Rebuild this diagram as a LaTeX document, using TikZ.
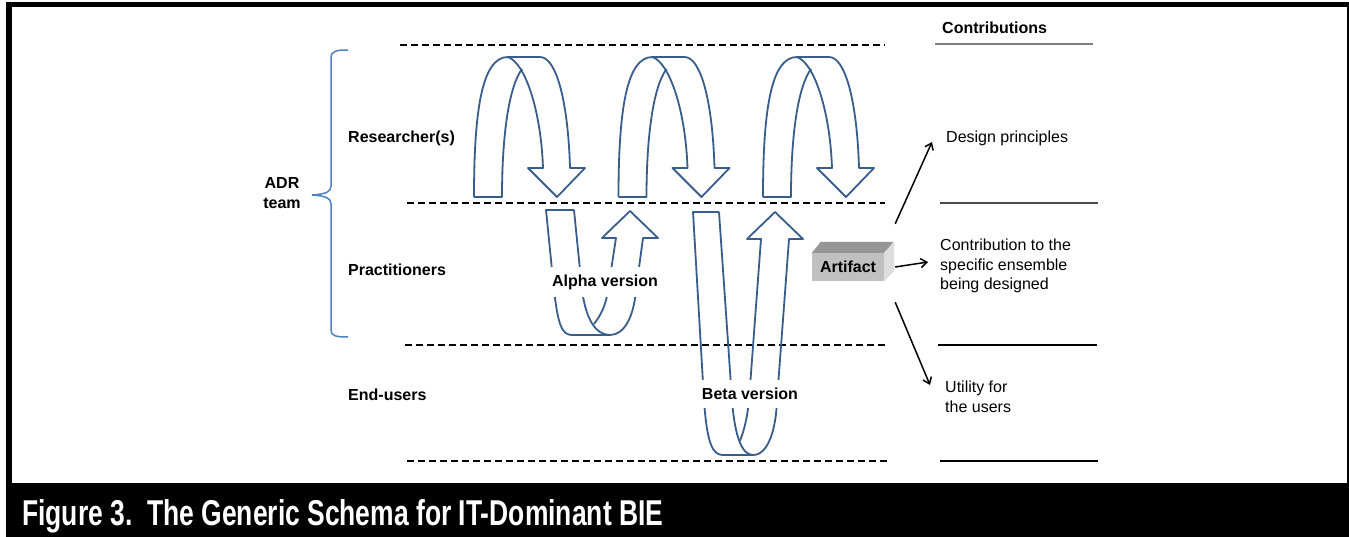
\documentclass[tikz,border=0pt]{standalone}
\usepackage{fontspec}
\setmainfont{Liberation Sans}
\usepackage{graphicx}
\usetikzlibrary{arrows.meta,calc}
\definecolor{arrowblue}{RGB}{56,93,138}
\definecolor{braceblue}{RGB}{79,129,189}
\definecolor{frontgray}{RGB}{192,192,192}
\definecolor{topgray}{RGB}{150,150,150}
\definecolor{sidegray}{RGB}{221,221,221}
\begin{document}
\begin{tikzpicture}[x=1pt,y=-1pt,
  band/.style={font=\bfseries\fontsize{16}{20}\selectfont,anchor=west,inner sep=0pt},
  contrib/.style={font=\fontsize{16}{19.5}\selectfont,anchor=west,align=left,inner sep=0pt},
  version/.style={font=\bfseries\fontsize{16}{20}\selectfont,fill=white,inner xsep=1pt,inner ysep=8pt},
  level/.style={black,line width=1.6pt,dash pattern=on 7pt off 4pt},
  rule/.style={line width=1.2pt},
  uarrow/.style={draw=arrowblue,line width=1.8pt,line join=round},
  pointer/.style={line width=1.5pt,-{Straight Barb[length=6pt,width=9pt]}}]
\useasboundingbox (0,0) rectangle (1349,537);
\fill[black] (6,2) rectangle (1349,537);
\fill[white] (12,7) rectangle (1347,483);
\node[anchor=base west,inner sep=0pt,text=white] (caption) at (22,525) {\resizebox{641pt}{26pt}{\bfseries Figure 3.\ \ The Generic Schema for IT-Dominant BIE}};
\foreach \y/\xa/\xb in {45/400/885,203/407/885,345/405/885,461/407/888} \draw[level] (\xa,\y) -- (\xb,\y);
\draw[rule,gray] (935,44) -- (1093,44);
\draw[rule,black!70] (940,203) -- (1098,203);
\draw[rule] (938,345) -- (1097,345);
\draw[rule] (940,461) -- (1098,461);
\draw[braceblue,line width=1.5pt] (348,50) .. controls (336,50) and (331,51) .. (331,58) -- (331,186) .. controls (331,192) and (326,194) .. (312,195) .. controls (326,196) and (331,198) .. (331,204) -- (331,330) .. controls (331,336) and (336,337) .. (348,337);
\foreach \dx in {0,144.5,289}{
\begin{scope}[xshift=\dx]
\draw[uarrow] (474,197) .. controls (474,110) and (482,57) .. (508,57) -- (540,57) .. controls (556,57) and (568,100) .. (570,168) -- (585,168) -- (557,197) -- (528,168) -- (543,168) .. controls (541,110) and (525,63) .. (508,57);
\draw[uarrow] (474,197) -- (502,197) .. controls (502,130) and (510,85) .. (522,69);
\end{scope}
}
\draw[uarrow] (574,210) -- (546,210) -- (554,290) .. controls (558,325) and (562,335) .. (572,335) -- (610,335) .. controls (625,335) and (634,315) .. (636,290) -- (643,238) -- (658,238) -- (630,211) -- (602,238) -- (616,238) -- (608,290) .. controls (606,305) and (601,315) .. (594,324);
\draw[uarrow] (574,210) -- (582,290) .. controls (586,320) and (596,335) .. (610,335);
\draw[uarrow] (719,212) -- (693,212) -- (704,400) .. controls (707,445) and (713,455) .. (723,455) -- (753,455) .. controls (768,455) and (776,430) .. (777,400) -- (789,239) -- (803,239) -- (775,212) -- (747,239) -- (761,239) -- (749,400) .. controls (747,420) and (744,430) .. (740,441);
\draw[uarrow] (719,212) -- (732,400) .. controls (735,440) and (743,455) .. (753,455);
\node[version] (alpha) at (605,282) {Alpha version};
\node[version] (beta) at (750,394) {Beta version};
\node[band] (res) at (348,138) {Researcher(s)};
\node[band] (prac) at (348,270) {Practitioners};
\node[band] (endu) at (348,395) {End-users};
\node[band,anchor=center,align=center] (adr) at (282,193) {ADR\\team};
\node[band] (contr) at (942,28) {Contributions};
\node[contrib] (dp) at (946,138) {Design principles};
\node[contrib] (ens) at (940,266) {Contribution to the\\specific ensemble\\being designed};
\node[contrib] (ut) at (945,397) {Utility for\\the users};
\node[fill=frontgray,minimum width=72pt,minimum height=28pt,inner sep=0pt,font=\bfseries\fontsize{16}{20}\selectfont] (art) at (848,267) {Artifact};
\fill[topgray] (art.north west) -- ++(9,-11) -- ++(73,0) -- (art.north east) -- cycle;
\fill[sidegray] (art.north east) -- ++(10,-11) -- ++(0,29) -- (art.south east) -- cycle;
\draw[pointer] ($(art.north east)+(11,-29)$) -- ($(dp.west)+(-14,4)$);
\draw[pointer] ($(art.east)+(11,0)$) -- ($(ens.west)+(-12,-4)$);
\draw[pointer] ($(art.south east)+(11,21)$) -- ($(ut.west)+(-15,-12)$);
\end{tikzpicture}
\end{document}
